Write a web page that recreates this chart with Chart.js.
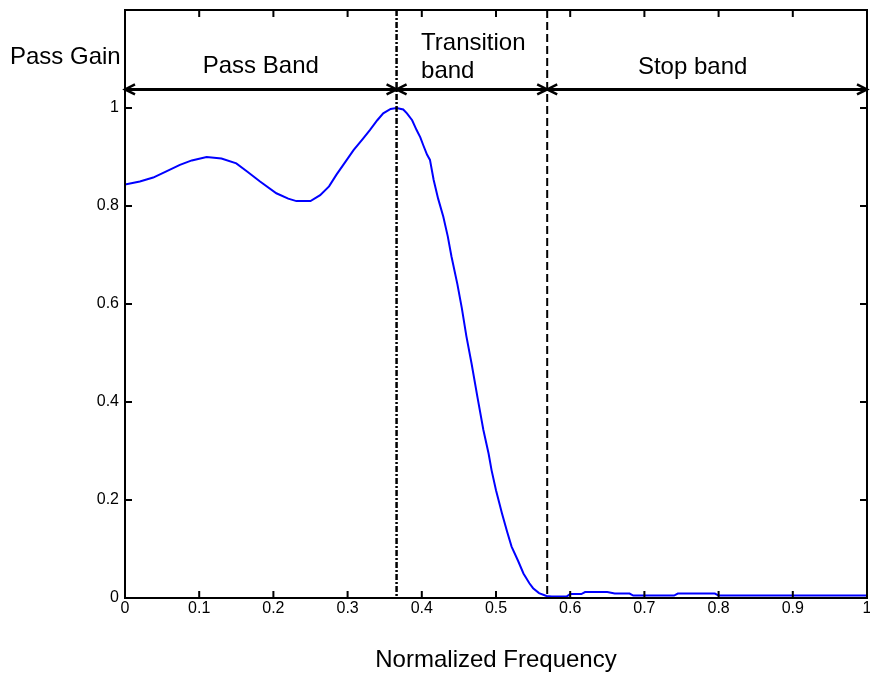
<!DOCTYPE html>
<html>
<script src="https://cdn.jsdelivr.net/npm/chart.js"></script>
<style type="text/css">
  body { margin: 0; background: #fff; }
</style>
<body>
  <canvas id="myChart" width="870" height="678"></canvas>

  <script>
    // filter magnitude response, gain vs normalized frequency
    const freq = [
      0, 0.02, 0.038, 0.055, 0.074, 0.09, 0.11, 0.13, 0.15, 0.165,
      0.182, 0.204, 0.22, 0.231, 0.25, 0.263, 0.275, 0.285, 0.297, 0.308,
      0.32, 0.33, 0.34, 0.348, 0.358, 0.366, 0.375, 0.38, 0.387, 0.393,
      0.398, 0.402, 0.407, 0.411, 0.416, 0.422, 0.429, 0.435, 0.44, 0.448,
      0.454, 0.46, 0.467, 0.475, 0.483, 0.49, 0.494, 0.5, 0.508, 0.515,
      0.521, 0.53, 0.537, 0.545, 0.55, 0.558, 0.568, 0.575, 0.595, 0.6,
      0.615, 0.62, 0.65, 0.66, 0.68, 0.685, 0.74, 0.745, 0.795, 0.8, 1
    ];
    const gain = [
      0.844, 0.85, 0.858, 0.87, 0.884, 0.893, 0.9, 0.897, 0.887, 0.87,
      0.85, 0.826, 0.815, 0.81, 0.81, 0.822, 0.84, 0.864, 0.89, 0.914,
      0.936, 0.955, 0.975, 0.989, 0.998, 1, 0.997, 0.989, 0.975, 0.955,
      0.94, 0.924, 0.905, 0.894, 0.853, 0.815, 0.778, 0.738, 0.697, 0.64,
      0.591, 0.535, 0.479, 0.41, 0.343, 0.295, 0.261, 0.22, 0.173, 0.135,
      0.105, 0.075, 0.05, 0.03, 0.02, 0.01, 0.004, 0.003, 0.003, 0.008,
      0.008, 0.012, 0.012, 0.009, 0.009, 0.005, 0.005, 0.009, 0.009, 0.005, 0.005
    ];

    const xTicks = [0, 0.1, 0.2, 0.3, 0.4, 0.5, 0.6, 0.7, 0.8, 0.9, 1];
    const yTicks = [0, 0.2, 0.4, 0.6, 0.8, 1, 1.2];

    // band edges and the level of the band arrows
    const passEdge = 0.366;
    const stopEdge = 0.569;
    const arrowLevel = 1.038;

    const FONT = '"Liberation Sans", Arial, sans-serif';

    function arrowHead(ctx, x, y, dir) {
      ctx.beginPath();
      ctx.moveTo(x - dir * 10, y - 5);
      ctx.lineTo(x, y);
      ctx.lineTo(x - dir * 10, y + 5);
      ctx.stroke();
    }

    const bandPlugin = {
      id: 'bands',
      afterDraw(chart) {
        const {ctx, chartArea: a, scales: {x, y}} = chart;
        ctx.save();
        ctx.strokeStyle = '#000';
        ctx.fillStyle = '#000';

        // box and inward ticks on all four sides
        ctx.lineWidth = 2;
        ctx.strokeRect(a.left, a.top, a.right - a.left, a.bottom - a.top);
        ctx.beginPath();
        xTicks.forEach(v => {
          const px = x.getPixelForValue(v);
          ctx.moveTo(px, a.bottom); ctx.lineTo(px, a.bottom - 7);
          ctx.moveTo(px, a.top); ctx.lineTo(px, a.top + 7);
        });
        yTicks.forEach(v => {
          const py = y.getPixelForValue(v);
          ctx.moveTo(a.left, py); ctx.lineTo(a.left + 7, py);
          ctx.moveTo(a.right, py); ctx.lineTo(a.right - 7, py);
        });
        ctx.stroke();

        // band edges
        const xp = x.getPixelForValue(passEdge);
        const xs = x.getPixelForValue(stopEdge);
        ctx.lineWidth = 2.5;
        ctx.setLineDash([6, 2, 2, 2]);
        ctx.beginPath(); ctx.moveTo(xp, a.top); ctx.lineTo(xp, a.bottom); ctx.stroke();
        ctx.lineWidth = 2;
        ctx.setLineDash([8, 4]);
        ctx.beginPath(); ctx.moveTo(xs, a.top); ctx.lineTo(xs, a.bottom); ctx.stroke();
        ctx.setLineDash([]);

        // band arrows
        const ya = y.getPixelForValue(arrowLevel);
        const x0 = x.getPixelForValue(0);
        const x1 = x.getPixelForValue(1);
        ctx.lineWidth = 3;
        ctx.beginPath(); ctx.moveTo(x0, ya); ctx.lineTo(x1, ya); ctx.stroke();
        ctx.lineWidth = 2.5;
        arrowHead(ctx, x0, ya, -1);
        arrowHead(ctx, xp, ya, 1);
        arrowHead(ctx, xp, ya, -1);
        arrowHead(ctx, xs, ya, 1);
        arrowHead(ctx, xs, ya, -1);
        arrowHead(ctx, x1, ya, 1);

        // band names
        ctx.font = '24px ' + FONT;
        ctx.textBaseline = 'alphabetic';
        ctx.textAlign = 'center';
        ctx.fillText('Pass Band', x.getPixelForValue(0.183), y.getPixelForValue(1.071));
        ctx.fillText('Stop band', x.getPixelForValue(0.765), y.getPixelForValue(1.07));
        ctx.textAlign = 'left';
        ctx.fillText('Transition', x.getPixelForValue(0.399), y.getPixelForValue(1.118));
        ctx.fillText('band', x.getPixelForValue(0.399), y.getPixelForValue(1.061));

        // axis titles
        ctx.fillText('Pass Gain', 10, y.getPixelForValue(1.089));
        ctx.textAlign = 'center';
        ctx.fillText('Normalized Frequency', (a.left + a.right) / 2, 667);
        ctx.restore();
      }
    };

    const ctx = document.getElementById('myChart').getContext('2d');
    const myChart = new Chart(ctx, {
      type: 'line',
      data: {
        datasets: [{
          data: freq.map((f, i) => ({x: f, y: gain[i]})),
          borderColor: '#0000ff',
          borderWidth: 2,
          pointRadius: 0,
          tension: 0,
          fill: false
        }]
      },
      options: {
        responsive: false,
        animation: false,
        layout: { padding: { top: 10, right: 3, left: 0, bottom: 0 } },
        plugins: { legend: false, tooltip: { enabled: false } },
        scales: {
          x: {
            type: 'linear',
            min: 0,
            max: 1,
            grid: { display: false, drawTicks: false },
            border: { display: false },
            ticks: {
              stepSize: 0.1,
              padding: 1,
              color: '#000',
              font: { family: FONT, size: 16 },
              callback: v => String(Math.round(v * 10) / 10)
            },
            afterFit: s => {
              s.height = 80;
              s.paddingLeft = 0;
              s.paddingRight = 0;
            }
          },
          y: {
            min: 0,
            max: 1.2,
            grid: { display: false, drawTicks: false },
            border: { display: false },
            ticks: {
              stepSize: 0.2,
              padding: 6,
              color: '#000',
              font: { family: FONT, size: 16 },
              callback: v => v > 1.01 ? '' : String(Math.round(v * 10) / 10)
            },
            afterFit: s => {
              s.width = 125;
              s.paddingTop = 0;
              s.paddingBottom = 0;
            }
          }
        }
      },
      plugins: [bandPlugin]
    });
  </script>

</body>
</html>
